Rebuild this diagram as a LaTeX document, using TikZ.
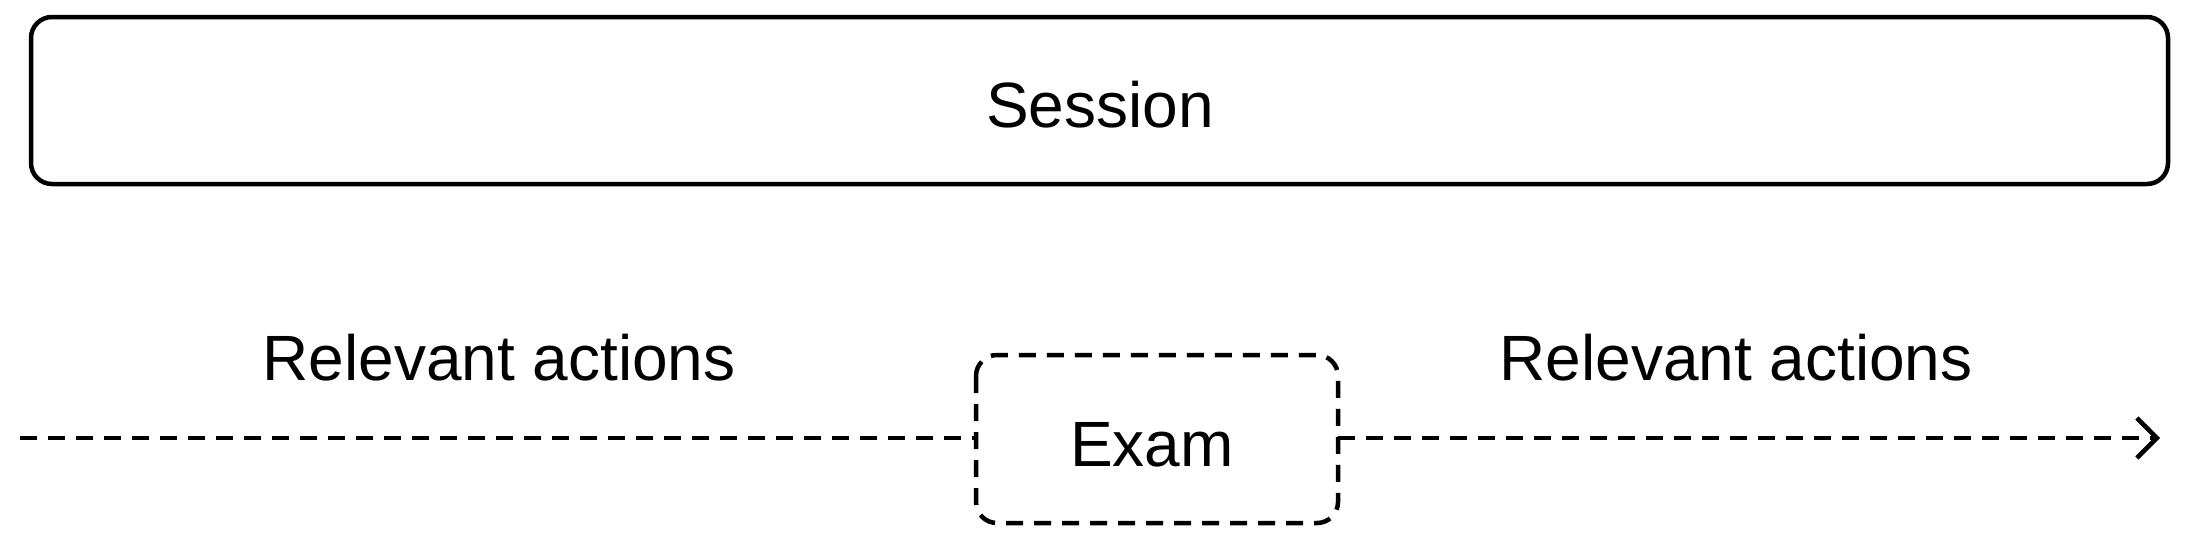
\documentclass[tikz,border=0pt]{standalone}
\usepackage{fontspec}
\setmainfont{Liberation Sans}
\usetikzlibrary{arrows.meta}
\begin{document}
\begin{tikzpicture}[x=1pt,y=-1pt,
  lbl/.style={font=\fontsize{64}{70}\selectfont,inner sep=0pt},
  dsh/.style={line width=4.5pt,dash pattern=on 17pt off 11pt}]
\useasboundingbox (0,0) rectangle (2186,542);
\draw[line width=4.5pt,rounded corners=21pt] (31,17) rectangle (2168,184);
\node[lbl] (session) at (1100,105) {Session};
\draw[dsh,rounded corners=21pt] (976,355) rectangle (1338,523);
\node[lbl] (exam) at (1152,445) {Exam};
\coordinate (exl) at (976,438);
\coordinate (exr) at (1338,438);
\coordinate (start) at (20,438);
\coordinate (end) at (2160,438);
\draw[dsh] (start) -- (exl);
\draw[dsh,-{Straight Barb[length=20pt,width=40pt,line width=4.5pt]}] (exr) -- (end);
\node[lbl] (ra1) at (499,358) {Relevant actions};
\node[lbl] (ra2) at (1736,358) {Relevant actions};
\end{tikzpicture}
\end{document}
